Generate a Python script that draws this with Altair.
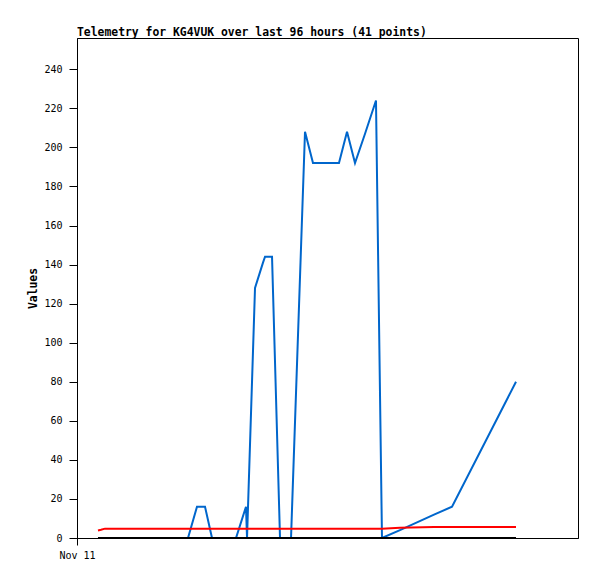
import altair as alt
import pandas as pd

# hours since Nov 11 00:00
hours = [4.02, 4.60, 5.37, 6.90, 8.43, 9.96, 11.50, 13.03, 14.56, 16.10, 17.63, 19.35, 21.27,
         22.99, 24.53, 25.87, 28.17, 29.32, 30.47, 32.38, 32.58, 34.11, 35.64, 36.03, 37.37,
         38.90, 40.05, 41.01, 43.69, 45.22, 47.71, 50.20, 51.74, 53.27, 55.19, 57.29, 58.44,
         61.89, 68.41, 71.86, 84.12]
blue = [0, 0, 0, 0, 0, 0, 0, 0, 0, 0, 0, 0, 0,
        16, 16, 0, 0, 0, 0, 16, 0, 128, 141, 144, 144,
        0, 0, 0, 208, 192, 192, 192, 208, 192, 207, 224, 0,
        4, 12, 16, 80]
red = [3.8, 4.2, 4.8, 4.8, 4.8, 4.8, 4.8, 4.8, 4.8, 4.8, 4.8, 4.8, 4.8,
       4.8, 4.8, 4.8, 4.8, 4.8, 4.8, 4.8, 4.8, 4.8, 4.8, 4.8, 4.8,
       4.8, 4.8, 4.8, 4.8, 4.8, 4.8, 4.8, 4.8, 4.8, 4.8, 4.8, 4.8,
       5.2, 5.6, 5.6, 5.6]
black = [0] * 41

y_ticks = [0, 20, 40, 60, 80, 100, 120, 140, 160, 180, 200, 220, 240]

df = pd.DataFrame({"h": hours, "blue": blue, "red": red, "black": black})

FONT = "DejaVu Sans Mono"

x_axis = alt.Axis(values=[0], labelExpr="'Nov 11'", title=None, grid=False,
                  tickSize=7, labelPadding=5, labelFont=FONT, labelFontSize=10,
                  labelColor="black", tickColor="black", domainColor="black",
                  labelAlign="center", labelFlush=False, labelBound=False,
                  labelOverlap=False)
y_axis = alt.Axis(values=y_ticks, title="Values", grid=False, tickSize=8, labelPadding=7,
                  labelFont=FONT, labelFontSize=10, labelColor="black",
                  tickColor="black", domainColor="black", labelFlush=False,
                  labelOverlap=False,
                  titleFont=FONT, titleFontSize=11.4, titleFontWeight="bold",
                  titleColor="black", titleX=-41, titleY=250, titleAngle=-90,
                  titleAlign="center", titleBaseline="alphabetic")

def layer(field, color):
    return alt.Chart(df).mark_line(color=color, strokeWidth=2, clip=True).encode(
        x=alt.X("h:Q", scale=alt.Scale(domain=[0, 96], nice=False, zero=False), axis=x_axis),
        y=alt.Y(f"{field}:Q", scale=alt.Scale(domain=[0, 256], nice=False), axis=y_axis),
    )

chart = alt.layer(
    layer("blue", "#0066CC"),
    layer("red", "#FF0000"),
    layer("black", "#000000"),
).properties(
    width=501, height=500,
    title=alt.TitleParams("Telemetry for KG4VUK over last 96 hours (41 points)",
                          anchor="start", frame="group", font=FONT, fontSize=11.4,
                          fontWeight="bold", color="black", offset=0),
    autosize=alt.AutoSizeParams(type="none"),
    padding={"left": 69, "top": 30, "right": 10, "bottom": 35},
    background="white",
).configure_view(stroke="black", strokeWidth=1)

chart.save("out.html", embed_options={"renderer": "svg", "actions": False})
